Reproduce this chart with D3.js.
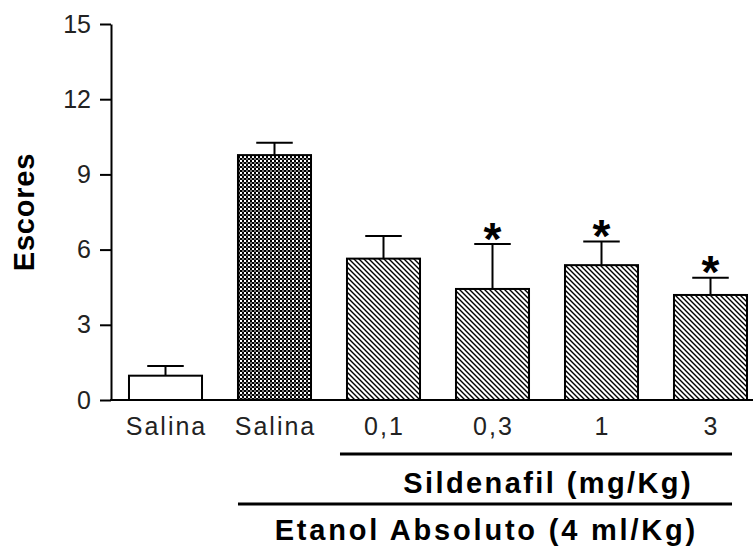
<!DOCTYPE html>
<html>
<head>
<meta charset="utf-8">
<script src="https://cdn.jsdelivr.net/npm/d3@7"></script>
<style>
  body { margin: 0; background: #fff; }
  svg { display: block; }
</style>
</head>
<body>
<svg id="drawing_region"></svg>
<script>
// data
var groups = ["Salina", "Salina", "0,1", "0,3", "1", "3"];
var means = [0.97, 9.77, 5.64, 4.43, 5.38, 4.19];
var sems = [0.39, 0.49, 0.90, 1.79, 0.94, 0.69];
var significant = [false, false, false, true, true, true];
var fills = ["white", "url(#checker)", "url(#hatch)", "url(#hatch)", "url(#hatch)", "url(#hatch)"];
var yticks = [0, 3, 6, 9, 12, 15];

var width = 754, height = 548;
var svg = d3.select('#drawing_region')
    .attr('width', width)
    .attr('height', height);

var defs = svg.append('defs');

// dense checkered fill
var checker = defs.append('pattern')
    .attr('id', 'checker')
    .attr('patternUnits', 'userSpaceOnUse')
    .attr('width', 4).attr('height', 4);
checker.append('rect').attr('width', 4).attr('height', 4).attr('fill', '#000');
checker.append('rect').attr('x', 0).attr('y', 0).attr('width', 2).attr('height', 2).attr('fill', '#fff');
checker.append('rect').attr('x', 2).attr('y', 2).attr('width', 2).attr('height', 2).attr('fill', '#777');

// diagonal hatch (top-left to bottom-right)
var hatch = defs.append('pattern')
    .attr('id', 'hatch')
    .attr('patternUnits', 'userSpaceOnUse')
    .attr('width', 5).attr('height', 5);
hatch.append('rect').attr('width', 5).attr('height', 5).attr('fill', '#fff');
hatch.append('path')
    .attr('d', 'M-1,-1 L6,6 M-1,4 L1,6 M4,-1 L6,1')
    .attr('stroke', '#000')
    .attr('stroke-width', 1.4);

var left = 111, top_ = 24, bottom = 400;

var yscale = d3.scaleLinear()
    .domain([0, 15])
    .range([bottom, top_]);

var xscale = d3.scaleBand()
    .domain(d3.range(groups.length))
    .range([left, 765])
    .paddingInner(0.33)
    .paddingOuter(0.165);

var bw = xscale.bandwidth();

// bars
svg.selectAll('rect.bar')
    .data(means)
    .join('rect')
    .attr('class', 'bar')
    .attr('x', (d, i) => xscale(i))
    .attr('y', d => yscale(d))
    .attr('width', bw)
    .attr('height', d => yscale(0) - yscale(d))
    .attr('fill', (d, i) => fills[i])
    .attr('stroke', '#000')
    .attr('stroke-width', 2);

// error bars (upper only)
var err = svg.append('g').attr('stroke', '#000').attr('stroke-width', 2);
means.forEach((m, i) => {
    var cx = xscale(i) + bw / 2;
    err.append('line')
        .attr('x1', cx).attr('x2', cx)
        .attr('y1', yscale(m)).attr('y2', yscale(m + sems[i]));
    err.append('line')
        .attr('x1', cx - bw / 4).attr('x2', cx + bw / 4)
        .attr('y1', yscale(m + sems[i])).attr('y2', yscale(m + sems[i]));
});

// asterisks
var starSize = 46;
svg.selectAll('text.star')
    .data(means.map((m, i) => ({ m: m, i: i })).filter(d => significant[d.i]))
    .join('text')
    .attr('class', 'star')
    .attr('x', d => xscale(d.i) + bw / 2)
    .attr('y', d => yscale(d.m + sems[d.i]) - 15 + starSize * 0.56)
    .attr('text-anchor', 'middle')
    .attr('font-family', 'Liberation Sans, Arial, sans-serif')
    .attr('font-weight', 'bold')
    .attr('font-size', starSize + 'px')
    .text('*');

// y axis
var yaxis = d3.axisLeft(yscale)
    .tickValues(yticks)
    .tickSize(11)
    .tickPadding(9)
    .tickSizeOuter(0);

var yaxis_group = svg.append('g')
    .attr('transform', `translate(${left}, 0)`)
    .call(yaxis);
yaxis_group.select('.domain').attr('stroke-width', 2);
yaxis_group.selectAll('.tick line').attr('stroke-width', 2);
yaxis_group.selectAll('.tick text')
    .attr('font-family', 'Liberation Sans, Arial, sans-serif')
    .attr('font-size', '25px')
    .attr('fill', '#222');

// x axis line
svg.append('line')
    .attr('x1', left - 1).attr('x2', 753)
    .attr('y1', bottom).attr('y2', bottom)
    .attr('stroke', '#000')
    .attr('stroke-width', 2);

// x category labels
svg.selectAll('text.xlab')
    .data(groups)
    .join('text')
    .attr('class', 'xlab')
    .attr('x', (d, i) => xscale(i) + bw / 2 + 1)
    .attr('y', 435)
    .attr('text-anchor', 'middle')
    .attr('font-family', 'Liberation Sans, Arial, sans-serif')
    .attr('font-size', '25px')
    .attr('letter-spacing', '2px')
    .attr('fill', '#222')
    .text(d => d);

// y label
svg.append('text')
    .attr('transform', `translate(34, ${(top_ + bottom) / 2}) rotate(-90)`)
    .attr('text-anchor', 'middle')
    .attr('font-family', 'Liberation Sans, Arial, sans-serif')
    .attr('font-weight', 'bold')
    .attr('font-size', '29px')
    .attr('letter-spacing', '0.8px')
    .text('Escores');

// group brackets
var lineEnd = xscale(5) + bw - 15;

svg.append('line')
    .attr('x1', xscale(2) - 7).attr('x2', lineEnd)
    .attr('y1', 454).attr('y2', 454)
    .attr('stroke', '#000').attr('stroke-width', 3);

svg.append('text')
    .attr('x', 693)
    .attr('y', 493)
    .attr('text-anchor', 'end')
    .attr('font-family', 'Liberation Sans, Arial, sans-serif')
    .attr('font-weight', 'bold')
    .attr('font-size', '29px')
    .attr('letter-spacing', '2.4px')
    .text('Sildenafil (mg/Kg)');

svg.append('line')
    .attr('x1', xscale(1)).attr('x2', lineEnd)
    .attr('y1', 504).attr('y2', 504)
    .attr('stroke', '#000').attr('stroke-width', 3);

svg.append('text')
    .attr('x', 698)
    .attr('y', 540)
    .attr('text-anchor', 'end')
    .attr('font-family', 'Liberation Sans, Arial, sans-serif')
    .attr('font-weight', 'bold')
    .attr('font-size', '29px')
    .attr('letter-spacing', '2.8px')
    .text('Etanol Absoluto (4 ml/Kg)');
</script>
</body>
</html>
